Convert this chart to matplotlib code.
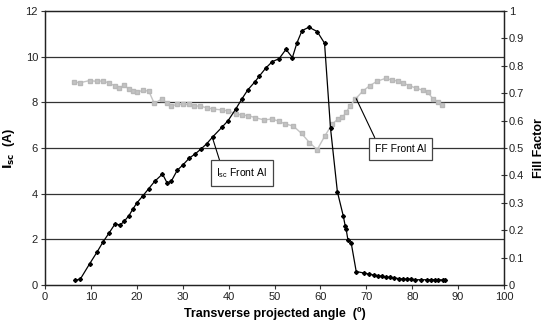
import matplotlib
matplotlib.use("Agg")
import matplotlib.pyplot as plt
from matplotlib.ticker import FuncFormatter

# Short-circuit current vs transverse projected angle
isc_angle = [6.5, 7.7, 9.7, 11.3, 12.6, 13.9, 15.25, 16.4, 17.3, 18.3, 19.1, 20.0,
             21.3, 22.6, 23.9, 25.6, 26.6, 27.5, 28.8, 30.1, 31.4, 32.7, 33.9, 35.2,
             36.6, 38.5, 39.9, 41.6, 42.9, 44.2, 45.7, 46.7, 48.1, 49.5, 51.0, 52.5,
             53.9, 54.9, 56.0, 57.5, 59.3, 60.9, 62.2, 63.7, 65.0, 65.4, 65.6, 66.0,
             66.7, 67.8, 69.6, 70.5, 71.6, 72.5, 73.4, 74.3, 75.2, 76.1, 77.1, 78.0,
             78.9, 79.8, 80.7, 81.9, 83.2, 84.2, 85.0, 85.7, 86.6, 87.1]
isc_values = [0.20, 0.26, 0.92, 1.43, 1.87, 2.26, 2.67, 2.63, 2.80, 3.04, 3.31, 3.59,
              3.90, 4.22, 4.54, 4.86, 4.47, 4.54, 5.02, 5.27, 5.55, 5.74, 5.94, 6.18,
              6.50, 6.90, 7.20, 7.72, 8.15, 8.55, 8.89, 9.15, 9.50, 9.78, 9.91, 10.32,
              9.96, 10.61, 11.14, 11.29, 11.10, 10.59, 6.87, 4.08, 3.01, 2.59, 2.45, 1.97,
              1.85, 0.59, 0.52, 0.48, 0.44, 0.41, 0.38, 0.34, 0.34, 0.31, 0.28, 0.26,
              0.26, 0.26, 0.23, 0.23, 0.23, 0.23, 0.23, 0.23, 0.22, 0.22]

# Fill factor vs transverse projected angle
ff_angle = [6.3, 7.6, 9.7, 11.3, 12.7, 14.0, 15.25, 16.2, 17.3, 18.3, 19.2, 20.0,
            21.3, 22.6, 23.8, 25.6, 26.5, 27.5, 28.7, 30.0, 31.4, 32.5, 33.8, 35.2,
            36.7, 38.5, 39.9, 41.6, 42.9, 44.3, 45.75, 47.8, 49.4, 50.9, 52.3, 54.1,
            55.9, 57.6, 59.3, 61.0, 62.6, 63.8, 64.8, 65.6, 66.5, 67.6, 69.2, 70.8,
            72.4, 74.2, 75.6, 76.9, 78.1, 79.4, 80.8, 82.4, 83.4, 84.5, 85.6, 86.5]
ff_values = [0.741, 0.738, 0.746, 0.743, 0.745, 0.736, 0.727, 0.720, 0.729, 0.714, 0.708, 0.704,
             0.710, 0.708, 0.663, 0.680, 0.663, 0.653, 0.659, 0.659, 0.659, 0.653, 0.653, 0.647,
             0.642, 0.639, 0.635, 0.625, 0.620, 0.618, 0.611, 0.602, 0.606, 0.598, 0.588, 0.580,
             0.553, 0.520, 0.494, 0.545, 0.588, 0.605, 0.612, 0.630, 0.655, 0.678, 0.707, 0.728,
             0.744, 0.754, 0.748, 0.744, 0.737, 0.727, 0.719, 0.710, 0.703, 0.680, 0.669, 0.656]

x_ticks = list(range(0, 101, 10))
isc_ticks = list(range(0, 13, 2))
ff_ticks = [i / 10 for i in range(11)]

plt.rcParams['font.family'] = ['Liberation Sans', 'DejaVu Sans']

fig = plt.figure(figsize=(5.44, 3.26), dpi=100)
ax = fig.add_axes([0.0827, 0.1258, 0.8438, 0.8405])
ax2 = ax.twinx()

ax.set_zorder(ax2.get_zorder() + 1)
ax.patch.set_visible(False)

# horizontal gridlines
for yv in isc_ticks[1:-1]:
    ax2.axhline(yv / 12, color='#333333', lw=0.9, zorder=0)

ax2.plot(ff_angle, ff_values, color='#c4c4c4', lw=1.0, marker='s', ms=3.2,
         mec='#b8b8b8', mfc='#c4c4c4', zorder=2)
ax.plot(isc_angle, isc_values, color='black', lw=0.9, marker='D', ms=2.0, zorder=3)

ax.set_xlim(0, 100)
ax.set_ylim(0, 12)
ax2.set_ylim(0, 1)
ax.set_xticks(x_ticks)
ax.set_yticks(isc_ticks)
ax2.set_yticks(ff_ticks)
ax2.yaxis.set_major_formatter(FuncFormatter(lambda v, p: f"{v:g}"))

for a in (ax, ax2):
    a.tick_params(labelsize=8, length=3, width=0.8, color='#333333', labelcolor='#222222')
    for s in a.spines.values():
        s.set_linewidth(0.9)
        s.set_color('#222222')
ax2.tick_params(axis='y', direction='inout', length=5, pad=1)
ax.tick_params(axis='x', pad=2)
ax.tick_params(axis='y', pad=2)

ax.set_xlabel('Transverse projected angle  (º)', fontsize=9, fontweight='bold', labelpad=4)
ax.set_ylabel(r'$\mathbf{I_{sc}}$  (A)', fontsize=9, fontweight='bold', labelpad=6)
ax2.set_ylabel('Fill Factor', fontsize=9, fontweight='bold', labelpad=6)

box = dict(boxstyle='square,pad=0.55', fc='white', ec='#444444', lw=0.9)
ax.annotate(r'I$_{\mathregular{sc}}$ Front Al', xy=(36.4, 6.5), xytext=(42.9, 4.9),
            fontsize=7.5, ha='center', va='center', bbox=box,
            arrowprops=dict(arrowstyle='-', color='black', lw=0.8, shrinkA=0, shrinkB=0,
                            relpos=(0.1, 1.0)))
ax2.annotate('FF Front Al', xy=(67.8, 0.68), xytext=(77.5, 0.497),
             fontsize=7.5, ha='center', va='center', bbox=box,
             arrowprops=dict(arrowstyle='-', color='black', lw=0.8, shrinkA=0, shrinkB=0,
                             relpos=(0.05, 1.0)))

fig.savefig('out.png', dpi=100)
